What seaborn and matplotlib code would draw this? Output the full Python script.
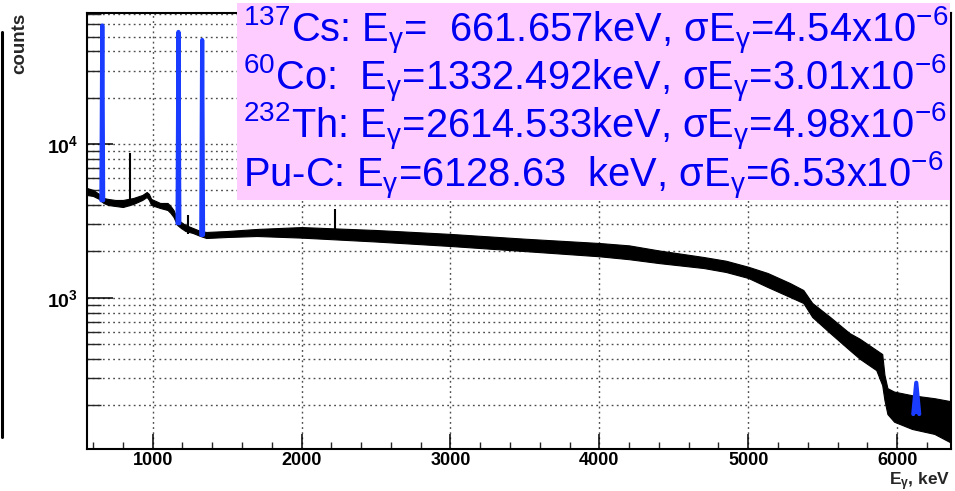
import numpy as np
import pandas as pd
import matplotlib
matplotlib.use("Agg")
import matplotlib.pyplot as plt
import seaborn as sns
from matplotlib.patches import Rectangle
from matplotlib.lines import Line2D
from matplotlib.ticker import MultipleLocator, LogLocator, NullFormatter, FixedLocator

# ---------------- data ----------------
env_E = [559, 600, 640, 652, 670, 700, 750, 800, 870, 930,
         960, 975, 990, 1050, 1100, 1120, 1140, 1165, 1190, 1220,
         1270, 1320, 1360, 1500, 1700, 2000, 2500, 3000, 3500, 4000,
         4200, 4400, 4700, 4850, 5000, 5130, 5280, 5370, 5430, 5550,
         5680, 5750, 5860, 5900, 5915, 5935, 5980, 6100, 6250, 6362]
env_hi = [5172, 5020, 4730, 4589, 4454, 4390, 4323, 4323, 4454, 4658,
          4870, 4730, 4390, 4133, 4133, 3950, 3720, 3250, 3108, 2972,
          2841, 2716, 2676, 2716, 2800, 2880, 2757, 2600, 2420, 2269,
          2190, 2030, 1840, 1740, 1590, 1448, 1246, 1122, 924, 749,
          589, 540, 457, 430, 315, 258, 245, 232, 222, 212]
env_lo = [4658, 4589, 4390, 4260, 4133, 4011, 3950, 3891, 4072, 4323,
          4521, 4323, 4011, 3834, 3720, 3557, 3350, 2972, 2841, 2716,
          2636, 2520, 2446, 2483, 2520, 2460, 2320, 2170, 2010, 1860,
          1780, 1680, 1560, 1470, 1344, 1174, 1011, 924, 749, 589,
          457, 400, 338, 270, 216, 175, 156, 140, 130, 114]

spike_E = [848, 1238, 2223]
spike_top = [8740, 3450, 3777]
spike_base = [4000, 2600, 2500]

peak_E = [661.657, 1173.2, 1332.492, 6128.63]
peak_top = [59000, 53600, 47500, 280]
peak_base = [4300, 3050, 2560, 175]

xticks = [1000, 2000, 3000, 4000, 5000, 6000]
yticks = [1e3, 1e4]
ytick_labels = ["$10^{3}$", "$10^{4}$"]

box_lines = [
    "$^{137}$Cs: E$_{γ}$=  661.657keV, σE$_{γ}$=4.54x10$^{-6}$",
    "$^{60}$Co:  E$_{γ}$=1332.492keV, σE$_{γ}$=3.01x10$^{-6}$",
    "$^{232}$Th: E$_{γ}$=2614.533keV, σE$_{γ}$=4.98x10$^{-6}$",
    "Pu-C: E$_{γ}$=6128.63  keV, σE$_{γ}$=6.53x10$^{-6}$",
]

# ---------------- style ----------------
sns.set_theme(style="ticks")
plt.rcParams["font.family"] = ["Liberation Sans", "DejaVu Sans"]
plt.rcParams["mathtext.default"] = "regular"

W, H = 955, 491
fig = plt.figure(figsize=(W / 100, H / 100), dpi=100)
fig.patch.set_facecolor("white")
ax = fig.add_axes([87 / W, 1 - 449 / H, (951 - 87) / W, (449 - 13) / H])
ax.set_facecolor("white")

# continuum band
ax.fill_between(env_E, env_lo, env_hi, color="black", lw=0.8, edgecolor="black", zorder=2)
ax.vlines(spike_E, spike_base, spike_top, color="black", lw=1.5, zorder=2)

# blue peaks
half_w = [6, 6, 6, 20]
rows = []
for i, (e, t, b) in enumerate(zip(peak_E, peak_top, peak_base)):
    hw = half_w[i]
    rows += [dict(E=e - hw, c=b, p=i), dict(E=e, c=t, p=i), dict(E=e + hw, c=b, p=i)]
pk = pd.DataFrame(rows)
for i, g in pk.groupby("p"):
    ax.fill(g["E"], g["c"], color="#1a3cff", lw=0, zorder=3)
sns.lineplot(data=pk, x="E", y="c", units="p", estimator=None, sort=False,
             color="#1a3cff", lw=3.0, ax=ax, zorder=3, legend=False)

ax.set_yscale("log")
ax.set_xlim(559, 6362)
ax.set_ylim(103.7, 71140)
ax.set_xlabel("")
ax.set_ylabel("")

ax.xaxis.set_major_locator(FixedLocator(xticks))
ax.xaxis.set_minor_locator(MultipleLocator(200))
ax.set_xticks(xticks)
ax.set_xticklabels([str(v) for v in xticks], fontsize=13, fontweight="bold")
ax.set_yticks(yticks)
ax.set_yticklabels(ytick_labels, fontsize=14, fontweight="bold")
ax.yaxis.set_minor_locator(LogLocator(base=10, subs=np.arange(2, 10)))
ax.yaxis.set_minor_formatter(NullFormatter())

ax.tick_params(axis="x", which="major", direction="in", length=10.5, width=1.1, pad=2.0, colors="black")
ax.tick_params(axis="x", which="minor", direction="in", length=5, width=1.0)
ax.tick_params(axis="y", which="major", direction="in", length=18.5, width=1.1, pad=6.5, colors="black")
ax.tick_params(axis="y", which="minor", direction="in", length=10, width=1.0)
ax.tick_params(top=False, right=False, which="both")

gridkw = dict(color="0.3", linestyle=(0, (1.3, 2.4)), linewidth=1.0)
ax.grid(True, which="major", axis="x", **gridkw)
ax.grid(True, which="both", axis="y", **gridkw)
ax.set_axisbelow(True)

for s in ax.spines.values():
    s.set_linewidth(1.5)
    s.set_color("black")

# annotations
fig.text(950 / W, 1 - 485 / H, "E$_{γ}$, keV", ha="right", va="baseline",
         fontsize=12.5, fontweight="bold")
fig.text(20 / W, 1 - 13 / H, "counts", rotation=90, ha="center", va="top",
         fontsize=13.5, fontweight="bold")
fig.add_artist(Line2D([2 / W, 2 / W], [1 - 32 / H, 1 - 437 / H], lw=2.2, color="black"))

fig.add_artist(Rectangle((237 / W, 1 - 200 / H), (950 - 237) / W, (200 - 3) / H,
                         transform=fig.transFigure, facecolor="#ffccff",
                         edgecolor="none", zorder=5))
baselines = [42, 90, 138, 187]
for txt, yb in zip(box_lines, baselines):
    fig.text(243 / W, 1 - yb / H, txt, ha="left", va="baseline", fontsize=28.7,
             color="#0000f0", zorder=6)

fig.savefig("out.png", dpi=100)
